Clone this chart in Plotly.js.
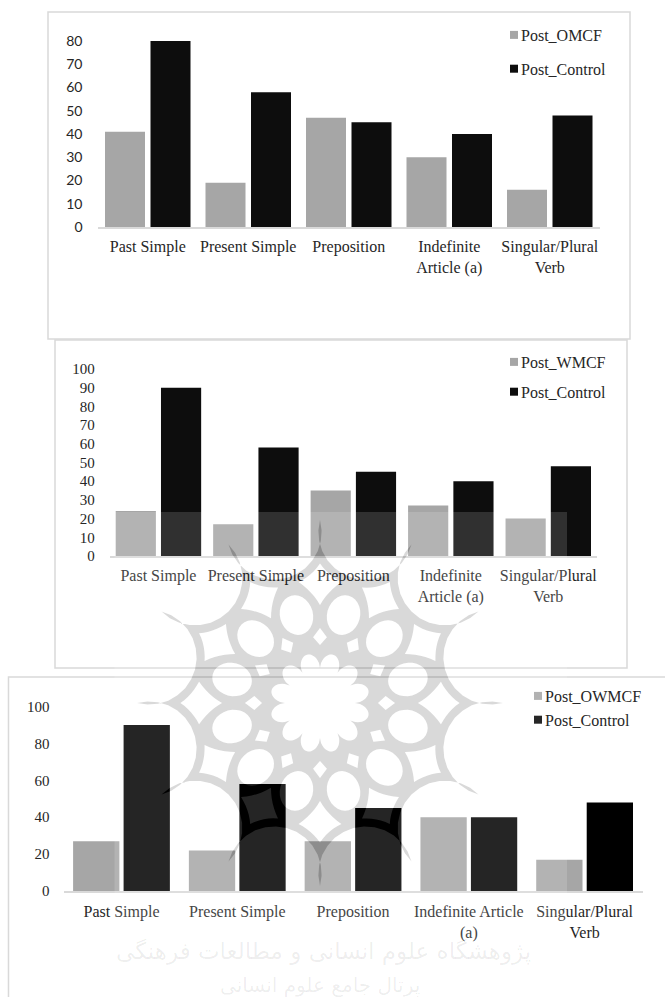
<!DOCTYPE html>
<html>
<head>
<meta charset="utf-8">
<script src="https://cdn.plot.ly/plotly-3.0.1.min.js"></script>
<style>html,body{margin:0;padding:0;background:#fff}#chart{width:665px;height:997px}</style>
</head>
<body>
<div id="chart"></div>
<script>
// Mistake counts per grammar category, post-test, three feedback groups
var categoriesA = ["Past Simple", "Present Simple", "Preposition", "Indefinite<br>Article (a)", "Singular/Plural<br>Verb"];
var categoriesB = ["Past Simple", "Present Simple", "Preposition", "Indefinite Article<br>(a)", "Singular/Plural<br>Verb"];
var postOMCF = [41, 19, 47, 30, 16];
var postWMCF = [24, 17, 35, 27, 20];
var postOWMCF = [27, 22, 27, 40, 17];
var controlA = [80, 58, 45, 40, 48];
var controlB = [90, 58, 45, 40, 48];
var controlC = [90, 58, 45, 40, 48];
var ticksA = [0, 10, 20, 30, 40, 50, 60, 70, 80];
var ticksB = [0, 10, 20, 30, 40, 50, 60, 70, 80, 90, 100];
var ticksC = [0, 20, 40, 60, 80, 100];

var W = 665, H = 997;
var SERIF = "Liberation Serif, serif";
var INK = "#262626", GRID = "#d9d9d9";
var px = function (x) { return x / W; };
var py = function (y) { return 1 - y / H; };
var pt = function (x, y) { return px(x).toFixed(5) + "," + py(y).toFixed(5); };

// Bar width and pitch are given in pixels and turned into category units per panel
function bars(name, x, y, color, xa, ya, legend, slot, barPx, pitchPx, side) {
  var offsetPx = side < 0 ? -(pitchPx + barPx) / 2 : (pitchPx - barPx) / 2;
  return { type: "bar", name: name, x: x, y: y, xaxis: xa, yaxis: ya, legend: legend, legendgroup: name + legend,
    width: barPx / slot, offset: offsetPx / slot,
    marker: { color: color, line: { width: 0 } }, hoverinfo: "skip" };
}

var data = [
  bars("Post_OMCF", categoriesA, postOMCF, "#a6a6a6", "x", "y", "legend", 100.5, 40, 45.5, -1),
  bars("Post_Control", categoriesA, controlA, "#0d0d0d", "x", "y", "legend", 100.5, 40, 45.5, 1),
  bars("Post_WMCF", categoriesA, postWMCF, "#a6a6a6", "x2", "y2", "legend2", 97.5, 40.2, 45.3, -1),
  bars("Post_Control", categoriesA, controlB, "#0d0d0d", "x2", "y2", "legend2", 97.5, 40.2, 45.3, 1),
  bars("Post_OWMCF", categoriesB, postOWMCF, "#a6a6a6", "x3", "y3", "legend3", 115.8, 46.3, 50.5, -1),
  bars("Post_Control", categoriesB, controlC, "#000000", "x3", "y3", "legend3", 115.8, 46.3, 50.5, 1)
];

function xAxis(left, right, anchor, standoff) {
  return { domain: [px(left), px(right)], anchor: anchor, type: "category", showgrid: false, zeroline: false,
    showline: true, linecolor: GRID, linewidth: 1.5, ticks: "", tickangle: 0, ticklabelstandoff: standoff,
    tickfont: { family: SERIF, size: 16, color: INK }, fixedrange: true };
}
function yAxis(top, bottom, anchor, maxValue, ticks, family, size, standoff) {
  return { domain: [py(bottom), py(top)], anchor: anchor, range: [0, maxValue], tickmode: "array", tickvals: ticks,
    ticktext: ticks.map(String), showgrid: false, zeroline: false, showline: false, ticks: "", ticklabelstandoff: standoff,
    tickfont: { family: family, size: size, color: INK }, fixedrange: true };
}
function legendBox(x, y, gap) {
  return { x: px(x), y: py(y), xanchor: "left", yanchor: "top", bgcolor: "rgba(0,0,0,0)", borderwidth: 0,
    itemwidth: 30, traceorder: "grouped", tracegroupgap: gap, font: { family: SERIF, size: 16, color: INK } };
}
function frame(x0, y0, x1, y1) {
  return { type: "rect", xref: "paper", yref: "paper", x0: px(x0), y0: py(y0), x1: px(x1), y1: py(y1),
    line: { color: GRID, width: 1.5 }, layer: "below" };
}

// Twelve-fold ornament behind the middle and lower panels, traced as one even-odd outline
var CX = 320, CY = 703;
function polar(r, deg) {
  var a = deg * Math.PI / 180;
  return [CX + r * Math.cos(a), CY + r * Math.sin(a)];
}
function quadTo(path, ctrl, end, steps) {
  var start = path[path.length - 1];
  for (var i = 1; i <= steps; i++) {
    var t = i / steps, u = 1 - t;
    path.push([u * u * start[0] + 2 * u * t * ctrl[0] + t * t * end[0],
               u * u * start[1] + 2 * u * t * ctrl[1] + t * t * end[1]]);
  }
}
// Appends a circular arc around c, from the last point of the path to end, along the shorter way
function arcTo(path, c, end, steps) {
  var start = path[path.length - 1];
  var a0 = Math.atan2(start[1] - c[1], start[0] - c[0]);
  var a1 = Math.atan2(end[1] - c[1], end[0] - c[0]);
  var da = a1 - a0;
  while (da > Math.PI) da -= 2 * Math.PI;
  while (da < -Math.PI) da += 2 * Math.PI;
  var r0 = Math.hypot(start[0] - c[0], start[1] - c[1]);
  for (var i = 1; i < steps; i++) {
    var a = a0 + da * i / steps;
    path.push([c[0] + r0 * Math.cos(a), c[1] + r0 * Math.sin(a)]);
  }
  path.push(end);
}
function ring(points) {
  return "M" + points.map(function (p) { return pt(p[0], p[1]); }).join("L") + "Z";
}
function ornamentPath() {
  var d = "", k, i, j, pts;
  // silhouette: half circles bitten between twelve sharp tips
  pts = [polar(183, 0)];
  for (k = 0; k < 12; k++) {
    var c = polar(176.8, 30 * k + 15);
    var tipFrom = Math.atan2(polar(183, 30 * k)[1] - c[1], polar(183, 30 * k)[0] - c[0]);
    for (j = 1; j < 14; j++) {
      var ang = tipFrom - Math.PI * j / 14;
      pts.push([c[0] + 47.4 * Math.cos(ang), c[1] + 47.4 * Math.sin(ang)]);
    }
    pts.push(polar(183, 30 * k + 30));
  }
  d += ring(pts);
  for (k = 0; k < 12; k++) {
    var base = 30 * k;
    // kites under each tip, their outer edges running parallel to the bites
    pts = [polar(139.6, base)];
    arcTo(pts, polar(176.8, base + 15), polar(122.8, base + 10), 6);
    quadTo(pts, polar(112, base + 4), polar(98, base), 6);
    quadTo(pts, polar(112, base - 4), polar(122.8, base - 10), 6);
    arcTo(pts, polar(176.8, base - 15), polar(139.6, base), 6);
    d += ring(pts);
    // small diamonds around the centre
    d += ring([polar(75, base), polar(66, base + 6), polar(58, base), polar(66, base - 6)]);
    // oval openings between the tips
    pts = [];
    var mid = polar(91, base + 15), a = (base + 15) * Math.PI / 180;
    for (i = 0; i < 28; i++) {
      var t = i / 28 * 2 * Math.PI, ra = 20 * Math.cos(t), rb = 16.5 * Math.sin(t);
      pts.push([mid[0] + ra * Math.cos(a) - rb * Math.sin(a), mid[1] + ra * Math.sin(a) + rb * Math.cos(a)]);
    }
    d += ring(pts);
  }
  // central flower
  pts = [];
  for (i = 0; i < 240; i++) {
    var deg = i * 1.5;
    pts.push(polar(35 + 15 * Math.pow(Math.abs(Math.cos(6 * (deg - 15) * Math.PI / 180)), 0.6), deg));
  }
  d += ring(pts);
  return d;
}
var ornament = ornamentPath();
var veil = "M" + pt(114.5, 512) + "L" + pt(567, 512) + "L" + pt(567, 997) + "L" + pt(114.5, 997) + "Z" + ornament;

var layout = {
  width: W, height: H, margin: { l: 0, r: 0, t: 0, b: 0 }, paper_bgcolor: "#fff", plot_bgcolor: "rgba(0,0,0,0)",
  barmode: "group", showlegend: true,
  xaxis: xAxis(97.5, 600, "y", 4), yaxis: yAxis(41, 227, "x", 80, ticksA, "Lato, sans-serif", 14, 14),
  xaxis2: xAxis(109.7, 597, "y2", 4), yaxis2: yAxis(369, 556, "x2", 100, ticksB, SERIF, 15, 14),
  xaxis3: xAxis(63.6, 642.5, "y3", 5), yaxis3: yAxis(706.6, 891, "x3", 100, ticksC, SERIF, 15, 13),
  legend: legendBox(481, 18, 10),
  legend2: legendBox(481, 345, 6),
  legend3: legendBox(505, 679, 0),
  shapes: [
    frame(48, 12, 630, 339),
    frame(55, 340, 627, 668),
    { type: "path", xref: "paper", yref: "paper", path: "M" + pt(8.5, 997) + "L" + pt(8.5, 677) + "L" + pt(665, 677),
      line: { color: GRID, width: 1.5 }, layer: "below" },
    { type: "path", xref: "paper", yref: "paper", path: ornament, fillcolor: "rgba(0,0,0,0.15)", line: { width: 0 }, layer: "above" },
    { type: "path", xref: "paper", yref: "paper", path: veil, fillcolor: "rgba(255,255,255,0.145)", line: { width: 0 }, layer: "above" }
  ],
  annotations: [
    { xref: "paper", yref: "paper", x: px(323), y: py(951), showarrow: false, xanchor: "center", yanchor: "middle",
      text: "پژوهشگاه علوم انسانی و مطالعات فرهنگی", font: { family: "DejaVu Sans", size: 23, color: "rgba(0,0,0,0.07)" } },
    { xref: "paper", yref: "paper", x: px(320), y: py(985), showarrow: false, xanchor: "center", yanchor: "middle",
      text: "پرتال جامع علوم انسانی", font: { family: "DejaVu Sans", size: 20, color: "rgba(0,0,0,0.07)" } }
  ]
};

Plotly.newPlot("chart", data, layout, { displayModeBar: false, staticPlot: true }).then(function () {
  // Compact legend swatches sitting right next to their labels
  document.querySelectorAll(".legendpoints path").forEach(function (p) {
    p.setAttribute("d", "M17,4H9V-4H17Z");
  });
  var lower = document.querySelectorAll(".legend3 .legendpoints path");
  if (lower[0]) lower[0].style.fill = "#b2b2b2";
  if (lower[1]) lower[1].style.fill = "#262626";
});
</script>
</body>
</html>
